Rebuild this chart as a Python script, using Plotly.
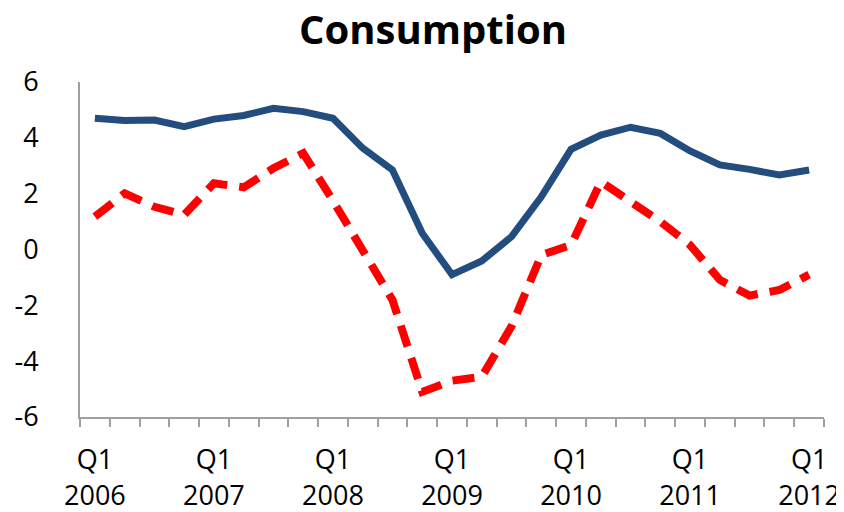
import plotly.graph_objects as go

quarters = list(range(25))
tick_positions = [0, 4, 8, 12, 16, 20, 24]
tick_labels = ["Q1<br>2006", "Q1<br>2007", "Q1<br>2008", "Q1<br>2009",
               "Q1<br>2010", "Q1<br>2011", "Q1<br>2012"]
y_ticks = [-6, -4, -2, 0, 2, 4, 6]
y_tick_labels = ["-6", "-4", "-2", "0", "2", "4", "6"]

series_blue = [4.70, 4.62, 4.64, 4.40, 4.67, 4.80, 5.06, 4.94, 4.70, 3.63,
               2.85, 0.58, -0.90, -0.41, 0.46, 1.89, 3.59, 4.10, 4.38, 4.16,
               3.53, 3.03, 2.87, 2.67, 2.85]
series_red = [1.18, 2.01, 1.53, 1.24, 2.37, 2.23, 2.91, 3.45, 1.75, -0.05,
              -1.81, -5.10, -4.70, -4.56, -2.75, -0.20, 0.16, 2.43, 1.71, 1.00,
              0.16, -1.09, -1.65, -1.45, -0.90]

fig = go.Figure()
fig.add_trace(go.Scatter(x=quarters, y=series_blue, mode="lines",
                         line=dict(color="#234C7F", width=7), showlegend=False))
fig.add_trace(go.Scatter(x=quarters, y=series_red, mode="lines",
                         line=dict(color="#FF0000", width=8, dash="22px,12px"),
                         showlegend=False))

# page body has an 8px default margin, so the figure is 836x504
fig.update_layout(
    width=836, height=504,
    margin=dict(l=72, r=20, t=74, b=95),
    paper_bgcolor="white", plot_bgcolor="white",
    title=dict(text="<b>Consumption</b>", x=425 / 836, xanchor="center",
               y=0.984, yanchor="top",
               font=dict(family="Open Sans", size=40, color="black")),
    font=dict(family="Open Sans", size=27, color="black"),
)
fig.update_xaxes(
    range=[-0.5, 24.5], tickvals=tick_positions, ticktext=tick_labels,
    ticks="", showgrid=False, zeroline=False, automargin=False,
    showline=True, linecolor="#A0A0A0", linewidth=2,
    ticklabelstandoff=18,
    minor=dict(tick0=-0.5, dtick=1, ticks="outside", ticklen=8,
               tickcolor="#A0A0A0", tickwidth=2, showgrid=False),
)
fig.update_yaxes(
    range=[-6, 6], tickvals=y_ticks, ticktext=y_tick_labels,
    ticks="", showgrid=False, zeroline=False, automargin=False,
    showline=True, linecolor="#A0A0A0", linewidth=2,
    ticklabelstandoff=34,
)
fig.write_html("out.html")
